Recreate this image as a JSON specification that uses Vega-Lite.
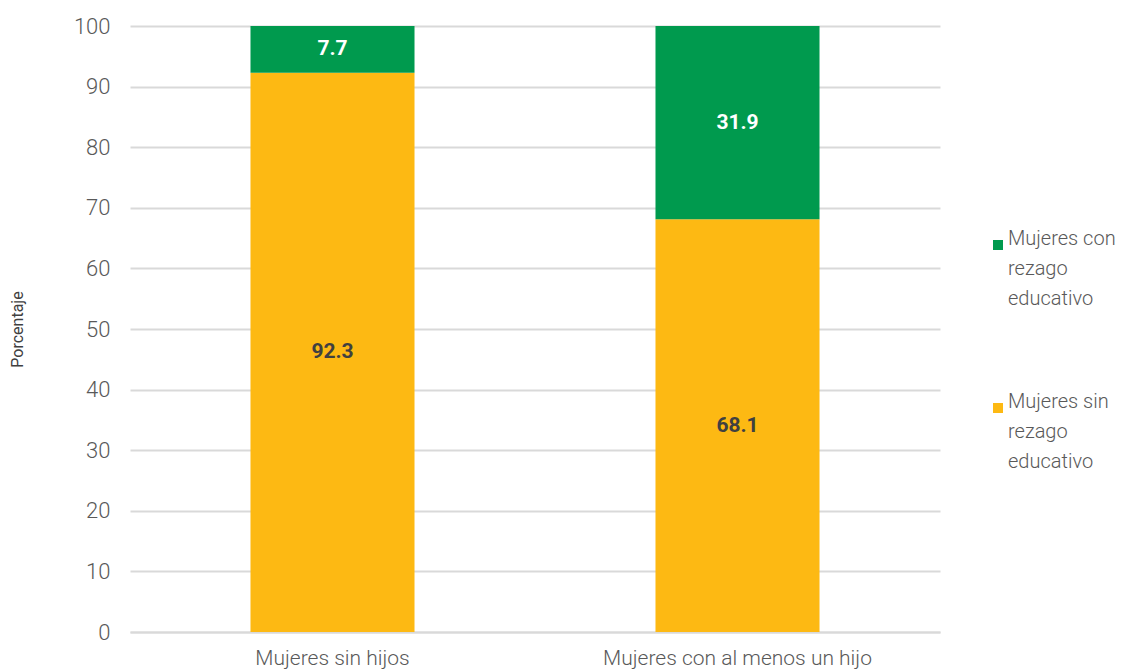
{
  "$schema": "https://vega.github.io/schema/vega-lite/v6.json",
  "autosize": {"type": "none"},
  "width": 810,
  "height": 606,
  "padding": {"left": 130, "top": 26, "right": 181, "bottom": 37},
  "background": "white",
  "data": {
    "values": [
      {"grupo": "Mujeres sin hijos", "serie": "Mujeres sin rezago educativo", "orden": 1, "valor": 92.3},
      {"grupo": "Mujeres sin hijos", "serie": "Mujeres con rezago educativo", "orden": 2, "valor": 7.7},
      {"grupo": "Mujeres con al menos un hijo", "serie": "Mujeres sin rezago educativo", "orden": 1, "valor": 68.1},
      {"grupo": "Mujeres con al menos un hijo", "serie": "Mujeres con rezago educativo", "orden": 2, "valor": 31.9}
    ]
  },
  "transform": [
    {"stack": "valor", "groupby": ["grupo"], "sort": [{"field": "orden", "order": "ascending"}], "as": ["v0", "v1"]},
    {"calculate": "(datum.v0 + datum.v1) / 2", "as": "vmid"}
  ],
  "config": {
    "font": "Roboto",
    "view": {"stroke": null},
    "style": {"guide-label": {"lineHeight": 30}},
    "axis": {"labelFont": "Roboto", "labelColor": "#595959", "titleFont": "Roboto", "titleColor": "#404040", "titleFontWeight": "normal", "labelFontWeight": 300}
  },
  "encoding": {
    "x": {
      "field": "grupo",
      "type": "nominal",
      "sort": ["Mujeres sin hijos", "Mujeres con al menos un hijo"],
      "scale": {"paddingInner": 0.595, "paddingOuter": 0.2975},
      "axis": {"title": null, "labelAngle": 0, "labelFontSize": 21, "labelPadding": 15, "labelLimit": 400, "ticks": false, "domainColor": "#d9d9d9", "domainWidth": 2, "labelColor": "#595959"}
    }
  },
  "layer": [
    {
      "mark": {"type": "bar"},
      "encoding": {
        "y": {
          "field": "v0",
          "type": "quantitative",
          "scale": {"domain": [0, 100]},
          "axis": {"title": "Porcentaje", "titleFontSize": 16, "titlePadding": 48, "values": [0,10,20,30,40,50,60,70,80,90,100], "labelFontSize": 22, "labelPadding": 20, "ticks": false, "domain": false, "gridColor": "#d9d9d9", "gridWidth": 2}
        },
        "y2": {"field": "v1"},
        "color": {
          "field": "serie",
          "type": "nominal",
          "scale": {"domain": ["Mujeres con rezago educativo", "Mujeres sin rezago educativo"], "range": ["#009A4E", "#FDB913"]},
          "legend": {
            "title": null,
            "orient": "none",
            "legendX": 858,
            "legendY": 209,
            "padding": 0,
            "symbolType": "square",
            "symbolSize": 100,
            "symbolStrokeWidth": 0,
            "symbolOpacity": 1,
            "labelFontSize": 20,
            "labelFontWeight": 300,
            "labelColor": "#595959",
            "labelFont": "Roboto",
            "labelBaseline": "alphabetic",
            "labelOffset": 0,
            "labelLimit": 200,
            "rowPadding": 83,
            "labelExpr": "datum.label == 'Mujeres con rezago educativo' ? ['Mujeres con', 'rezago', 'educativo'] : ['Mujeres sin', 'rezago', 'educativo']"
          }
        }
      }
    },
    {
      "mark": {"type": "text", "fontSize": 21, "fontWeight": "bold", "font": "Roboto"},
      "encoding": {
        "y": {"field": "vmid", "type": "quantitative"},
        "text": {"field": "valor", "type": "quantitative", "format": ".1f"},
        "color": {"condition": {"test": "datum.serie == 'Mujeres con rezago educativo'", "value": "white"}, "value": "#404040"}
      }
    }
  ]
}
